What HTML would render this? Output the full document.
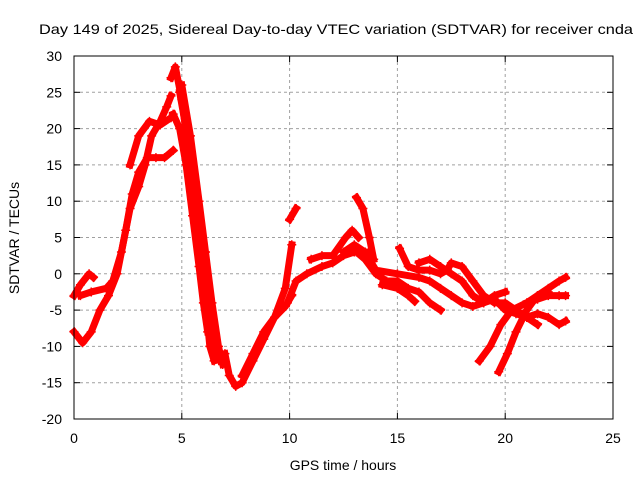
<!DOCTYPE html>
<html><head><meta charset="utf-8"><style>
html,body{margin:0;padding:0;background:#fff}
svg{display:block;font-family:"Liberation Sans",sans-serif}
</style></head><body>
<svg id="chart" width="640" height="480" viewBox="0 0 640 480">
<text x="336" y="34" font-size="14" text-anchor="middle" textLength="594" lengthAdjust="spacingAndGlyphs">Day 149 of 2025, Sidereal Day-to-day VTEC variation (SDTVAR) for receiver cnda</text>
<g id="grid"></g>
<g id="axes"></g>
<g id="series"></g>
<rect x="74" y="56" width="539" height="363" fill="none" stroke="#000" stroke-width="1"/>
<text x="343" y="470" font-size="14" text-anchor="middle">GPS time / hours</text>
<text transform="translate(19,238) rotate(-90)" font-size="14" text-anchor="middle">SDTVAR / TECUs</text>
</svg>
<script>
const xTicks = [0,5,10,15,20,25];
const yTicks = [-20,-15,-10,-5,0,5,10,15,20,25,30];
const track1 = [[0,-3],[0.3,-1.5],[0.7,0],[0.9,-0.5]];
const track2 = [[0.3,-3],[0.8,-2.5],[1.5,-2],[1.8,-1],[2.2,3],[2.6,9],[3,12],[3.3,15],[3.6,19],[4,21],[4.3,23],[4.5,24.5]];
const track3 = [[0,-8],[0.4,-9.5],[0.8,-8],[1.2,-5],[1.6,-3],[2,0],[2.4,6],[2.7,11],[3,14],[3.4,16],[3.8,16],[4.2,16],[4.6,17]];
const track4 = [[2.6,15],[3,19],[3.5,21],[4,20.5],[4.5,21.5]];
const track5 = [[4.5,27],[4.7,28.5],[5,24],[5.3,17],[5.6,9],[5.9,2],[6.1,-4],[6.3,-10],[6.5,-12]];
const track6 = [[4.6,22],[4.9,20],[5.2,15],[5.5,8],[5.8,1],[6,-4],[6.2,-8]];
const track7 = [[4.9,25],[5.2,20],[5.5,13],[5.8,6],[6.1,-1],[6.4,-6],[6.6,-10],[6.8,-12]];
const track7b = [[5.0,26],[5.4,19],[5.8,10],[6.1,3],[6.4,-4],[6.7,-10],[6.9,-12.5]];
const track8 = [[7,-11],[7.2,-14],[7.5,-15.5],[7.8,-15],[8.3,-12],[8.8,-9],[9.3,-6],[9.8,-2],[10.1,4]];
const track9 = [[7.8,-14],[8.3,-11],[8.8,-8],[9.3,-6],[9.8,-4.5],[10.1,-3]];
const track10 = [[10,7.5],[10.3,9]];
const track11 = [[9.9,-4],[10.3,-1],[10.8,0],[11.5,1],[12,1.5],[12.5,2.5],[13,3],[13.5,3]];
const track12 = [[11,2],[11.5,2.5],[12,2.5],[12.6,5],[12.9,6],[13.2,5]];
const track13 = [[13.1,10.5],[13.4,9],[13.7,5],[13.9,2]];
const track14 = [[13.1,3],[13.5,2],[14,0],[14.5,-1],[15,-1],[15.5,-2],[16,-2.5],[16.5,-4],[17,-5]];
const track15 = [[12.5,3],[13,4],[13.5,3],[14,0.5],[15,0],[16,-0.5],[16.5,-1],[17,-2],[17.5,-3],[18,-4],[18.5,-4.5],[19,-4],[19.5,-3],[20,-2.5]];
const track16 = [[14.3,-1.5],[15,-2],[15.5,-3],[15.8,-3.8]];
const track17 = [[15.1,3.5],[15.5,1],[16,0.5],[16.5,0.5],[17,0],[17.3,0.5],[17.5,1.5],[18,1],[18.5,-1],[19,-3],[19.5,-4],[20,-4],[20.5,-5],[21,-6]];
const track18 = [[16,1.5],[16.5,2],[17,1],[17.5,0],[18,-1],[18.5,-3],[19,-4],[19.5,-3.5],[20,-5],[20.5,-5.5],[21,-6],[21.5,-7]];
const track19 = [[18.8,-12],[19.3,-10],[19.8,-7],[20.3,-5],[21,-4],[21.5,-3],[22,-2],[22.5,-1],[22.8,-0.5]];
const track20 = [[19.7,-13.5],[20.1,-11],[20.5,-8],[21,-5],[21.5,-3],[22,-2.5]];
const track21 = [[20.5,-5],[21,-6],[21.5,-5.5],[22,-6],[22.5,-7],[22.8,-6.5]];
const track22 = [[21,-4],[21.5,-3.5],[22,-3],[22.5,-3],[22.8,-3]];
const tracks = [track1,track2,track3,track4,track5,track6,track7,track7b,track8,track9,track10,track11,track12,track13,track14,track15,track16,track17,track18,track19,track20,track21,track22];

const NS = "http://www.w3.org/2000/svg";
const X0=74, X1=613, Y0=419, Y1=56;
function xs(t){return X0+(t-0)/(25-0)*(X1-X0);}
function ys(v){return Y0-(v-(-20))/(30-(-20))*(Y0-Y1);}
function mk(tag,attrs,parent){const e=document.createElementNS(NS,tag);for(const k in attrs)e.setAttribute(k,attrs[k]);parent.appendChild(e);return e;}
const grid=document.getElementById('grid'), axes=document.getElementById('axes'), series=document.getElementById('series');
xTicks.forEach(t=>{
  const x=xs(t);
  if(t>0&&t<25){const g=mk('line',{x1:x,x2:x,y1:Y1,y2:Y0,stroke:'#a0a0a0','stroke-dasharray':'3,3'},grid);
  
  }
  mk('line',{x1:x,x2:x,y1:Y0,y2:Y0-6,stroke:'#000'},axes);
  mk('line',{x1:x,x2:x,y1:Y1,y2:Y1+6,stroke:'#000'},axes);
  const l=mk('text',{x:x,y:443,'font-size':14,'text-anchor':'middle'},axes);
  l.textContent=t;
  
  
});
yTicks.forEach(v=>{
  const y=ys(v);
  if(v>-20&&v<30){const g=mk('line',{x1:X0,x2:X1,y1:y,y2:y,stroke:'#a0a0a0','stroke-dasharray':'3,3'},grid);
  
  }
  mk('line',{x1:X0,x2:X0+6,y1:y,y2:y,stroke:'#000'},axes);
  mk('line',{x1:X1,x2:X1-6,y1:y,y2:y,stroke:'#000'},axes);
  const l=mk('text',{x:62,y:y+5,'font-size':14,'text-anchor':'end'},axes);
  l.textContent=v;
  
  
});
tracks.forEach((tr,i)=>{
  const g=mk('g',{},series);
  
  
  mk('polyline',{points:tr.map(p=>xs(p[0])+','+ys(p[1])).join(' '),fill:'none',stroke:'#ff0000','stroke-width':7,'stroke-linejoin':'round','stroke-linecap':'square'},g);
  tr.forEach(p=>{
    const x=xs(p[0]),y=ys(p[1]);
    mk('path',{d:`M${x-4.5},${y}H${x+4.5}M${x},${y-4.5}V${y+4.5}`,stroke:'#ff0000','stroke-width':1.5},g);
  });
});
</script>
</body></html>
